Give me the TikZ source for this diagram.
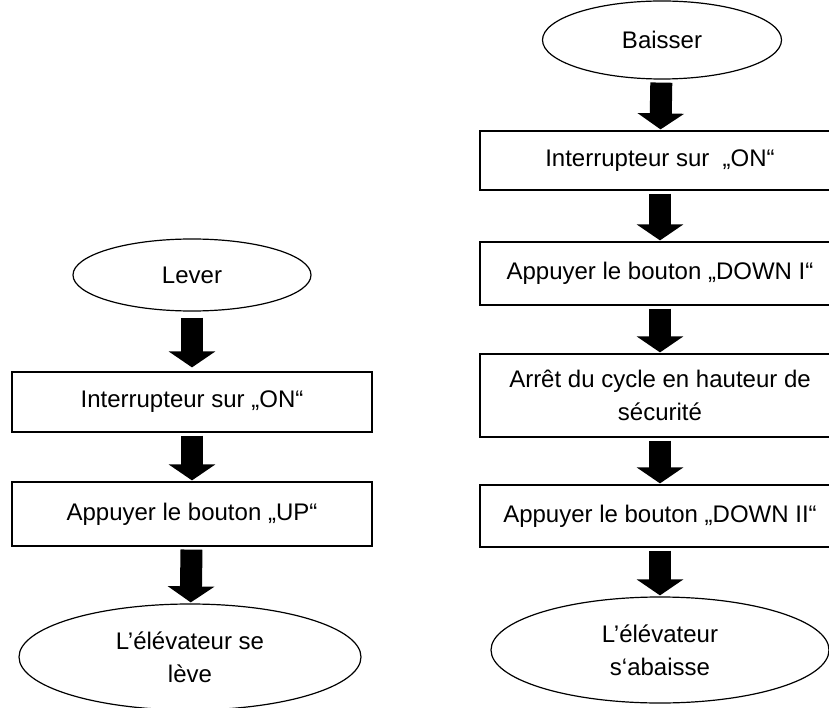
\documentclass[tikz,border=0pt]{standalone}
\usepackage{fontspec}
\setmainfont{Liberation Sans}
\usepackage{tikz}
\usetikzlibrary{shapes.geometric, arrows.meta}

\begin{document}
\begin{tikzpicture}[
  x=1pt, y=-1pt,
  font=\fontsize{24}{33}\selectfont,
  terminal/.style={ellipse, draw, line width=1.2pt, inner sep=0pt, align=center},
  stepbox/.style={rectangle, draw, line width=1.2pt, minimum width=360pt, inner sep=0pt, align=center},
  flow/.style={line width=22pt, -{Triangle[length=16pt, width=46pt]}, shorten <=3pt, shorten >=1pt}
]
\useasboundingbox (0,0) rectangle (829,708);
\clip (0,0) rectangle (829,708);

% Lever
\node[terminal, minimum width=238pt, minimum height=72pt] (lever) at (192, 275) {Lever};
\node[stepbox, minimum height=60pt] (onL) at (192, 402) {Interrupteur sur „ON“};
\node[stepbox, minimum height=64pt] (up) at (192, 514) {Appuyer le bouton „UP“};
\node[terminal, minimum width=342pt, minimum height=106pt] (leve) at (190, 657) {L’élévateur se\\lève};

% Baisser
\node[terminal, minimum width=239pt, minimum height=78pt] (baisser) at (662, 40) {Baisser};
\node[stepbox, minimum height=59pt] (onR) at (660, 160.5) {Interrupteur sur\ \ „ON“};
\node[stepbox, minimum height=63pt] (down1) at (660, 273.5) {Appuyer le bouton „DOWN I“};
\node[stepbox, minimum height=83pt] (stop) at (660, 395.5) {Arrêt du cycle en hauteur de\\sécurité};
\node[stepbox, minimum height=62pt] (down2) at (660, 516) {Appuyer le bouton „DOWN II“};
\node[terminal, minimum width=338pt, minimum height=106pt] (abaisse) at (660, 650) {L’élévateur\\s‘abaisse};

\draw [flow, shorten <=6pt, shorten >=4pt] (lever) -- (onL);
\draw [flow] (onL) -- (up);
\draw [flow] (up) -- (leve);

\draw [flow] (baisser) -- (onR);
\draw [flow] (onR) -- (down1);
\draw [flow] (down1) -- (stop);
\draw [flow] (stop) -- (down2);
\draw [flow] (down2) -- (abaisse);

\end{tikzpicture}
\end{document}
